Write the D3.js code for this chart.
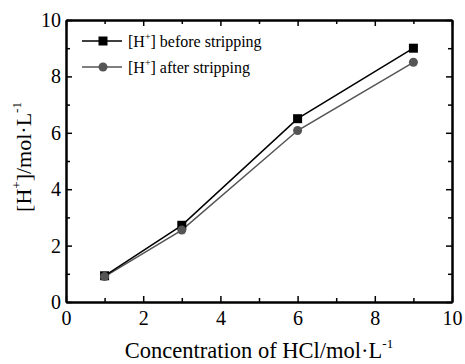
<!DOCTYPE html>
<html><head><meta charset="utf-8">
<script src="https://cdn.jsdelivr.net/npm/d3@7"></script>
<style>body{margin:0;background:#fff}svg{display:block}svg text, svg g{font-family:"Liberation Serif","Times New Roman",serif}</style>
</head><body>
<script>
const xValues = [1, 3, 6, 9];
const beforeValues = [0.93, 2.72, 6.5, 9.0];
const afterValues = [0.9, 2.55, 6.08, 8.5];
const seriesNames = ["before stripping", "after stripping"];
const majorTicks = [0, 2, 4, 6, 8, 10];
const minorTicks = [1, 3, 5, 7, 9];

(function () {
const W = 465, H = 364;
const m = {l: 66, r: 13, t: 20, b: 62};
const FONT = "Liberation Serif, Times New Roman, serif";
const svg = d3.select("body").append("svg").attr("width", W).attr("height", H);
const x = d3.scaleLinear().domain([0, 10]).range([m.l, W - m.r]);
const y = d3.scaleLinear().domain([0, 10]).range([H - m.b, m.t]);

function axisSet(gen, tf) {
  const g = svg.append("g").attr("transform", tf).call(gen).attr("font-family", FONT);
  g.select(".domain").attr("stroke", "#000").attr("stroke-width", 2);
  g.selectAll(".tick line").attr("stroke", "#000").attr("stroke-width", 1.5);
  g.selectAll("text").attr("font-size", 20).attr("fill", "#000");
  return g;
}
const pBot = H - m.b, pTop = m.t, pLft = m.l, pRgt = W - m.r;
axisSet(d3.axisBottom(x).tickValues(majorTicks).tickSizeInner(-6).tickSizeOuter(0).tickPadding(9).tickFormat(d3.format("d")), `translate(0,${pBot})`);
axisSet(d3.axisBottom(x).tickValues(minorTicks).tickSizeInner(-4).tickSizeOuter(0).tickFormat(""), `translate(0,${pBot})`);
axisSet(d3.axisTop(x).tickValues(majorTicks).tickSizeInner(-6).tickSizeOuter(0).tickFormat(""), `translate(0,${pTop})`);
axisSet(d3.axisTop(x).tickValues(minorTicks).tickSizeInner(-4).tickSizeOuter(0).tickFormat(""), `translate(0,${pTop})`);
axisSet(d3.axisLeft(y).tickValues(majorTicks).tickSizeInner(-6).tickSizeOuter(0).tickPadding(5).tickFormat(d3.format("d")), `translate(${pLft},0)`);
axisSet(d3.axisLeft(y).tickValues(minorTicks).tickSizeInner(-4).tickSizeOuter(0).tickFormat(""), `translate(${pLft},0)`);
axisSet(d3.axisRight(y).tickValues(majorTicks).tickSizeInner(-6).tickSizeOuter(0).tickFormat(""), `translate(${pRgt},0)`);
axisSet(d3.axisRight(y).tickValues(minorTicks).tickSizeInner(-4).tickSizeOuter(0).tickFormat(""), `translate(${pRgt},0)`);

const line = d3.line().x(d => x(d[0])).y(d => y(d[1]));
const before = xValues.map((v, i) => [v, beforeValues[i]]);
const after = xValues.map((v, i) => [v, afterValues[i]]);
const cB = "#000", cA = "#555";

svg.append("path").datum(after).attr("d", line).attr("fill", "none").attr("stroke", cA).attr("stroke-width", 1.5);
svg.append("path").datum(before).attr("d", line).attr("fill", "none").attr("stroke", cB).attr("stroke-width", 1.5);
svg.selectAll(".sq").data(before).join("rect").attr("x", d => x(d[0]) - 4.5).attr("y", d => y(d[1]) - 4.5)
  .attr("width", 9).attr("height", 9).attr("fill", cB);
svg.selectAll(".ci").data(after).join("circle").attr("cx", d => x(d[0])).attr("cy", d => y(d[1])).attr("r", 4.5).attr("fill", cA);

const leg = [{n: seriesNames[0], c: cB, s: "sq", yy: 41}, {n: seriesNames[1], c: cA, s: "ci", yy: 67}];
leg.forEach(L => {
  svg.append("line").attr("x1", 82).attr("x2", 122).attr("y1", L.yy).attr("y2", L.yy).attr("stroke", L.c).attr("stroke-width", 1.5);
  if (L.s === "sq") svg.append("rect").attr("x", 103 - 4.5).attr("y", L.yy - 4.5).attr("width", 9).attr("height", 9).attr("fill", L.c);
  else svg.append("circle").attr("cx", 103).attr("cy", L.yy).attr("r", 4.5).attr("fill", L.c);
  const t = svg.append("text").attr("x", 128).attr("y", L.yy + 5.5).attr("font-size", 16).attr("fill", "#000");
  t.append("tspan").text("[H");
  t.append("tspan").attr("dy", -7).attr("font-size", 10).text("+");
  t.append("tspan").attr("dy", 7).text("] " + L.n);
});

const xt = svg.append("text").attr("x", (pLft + pRgt) / 2).attr("y", 358).attr("text-anchor", "middle").attr("font-size", 22.5).attr("fill", "#000");
xt.append("tspan").text("Concentration of HCl/mol·L");
xt.append("tspan").attr("dy", -10).attr("font-size", 13).text("-1");

const yt = svg.append("text").attr("transform", `translate(31,${(pTop + pBot) / 2 - 4}) rotate(-90)`).attr("text-anchor", "middle").attr("font-size", 22).attr("fill", "#000");
yt.append("tspan").text("[H");
yt.append("tspan").attr("dy", -10).attr("font-size", 13).text("+");
yt.append("tspan").attr("dy", 10).text("]/mol·L");
yt.append("tspan").attr("dy", -10).attr("font-size", 13).text("-1");
})();
</script>
</body></html>
